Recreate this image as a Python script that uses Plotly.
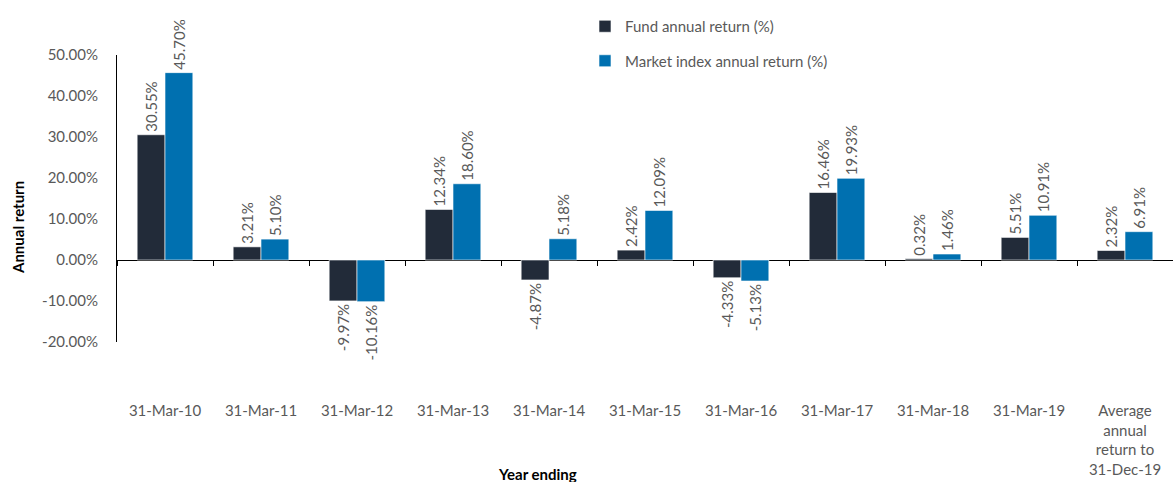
import plotly.graph_objects as go

categories = ["31-Mar-10", "31-Mar-11", "31-Mar-12", "31-Mar-13", "31-Mar-14",
              "31-Mar-15", "31-Mar-16", "31-Mar-17", "31-Mar-18", "31-Mar-19",
              "Average<br>annual<br>return to<br>31-Dec-19"]
fund = [30.55, 3.21, -9.97, 12.34, -4.87, 2.42, -4.33, 16.46, 0.32, 5.51, 2.32]
market = [45.70, 5.10, -10.16, 18.60, 5.18, 12.09, -5.13, 19.93, 1.46, 10.91, 6.91]
ytickvals = [-20, -10, 0, 10, 20, 30, 40, 50]
yticktext = ["-20.00%", "-10.00%", "0.00%", "10.00%", "20.00%", "30.00%", "40.00%", "50.00%"]

FONT = "Lato"
GRAY = "#595959"

fig = go.Figure()
fig.add_trace(go.Bar(
    x=categories, y=fund, name="Fund annual return (%)",
    marker=dict(color="#222B39", line=dict(color="#ffffff", width=0.6)),
    text=[f"{v:.2f}%" for v in fund], textposition="outside", textangle=-90,
    constraintext="none",
    textfont=dict(family=FONT, size=15, color=GRAY), cliponaxis=False,
    legendgroup="a"))
fig.add_trace(go.Bar(
    x=categories, y=market, name="Market index annual return (%)",
    marker=dict(color="#0070B0", line=dict(color="#ffffff", width=0.6)),
    text=[f"{v:.2f}%" for v in market], textposition="outside", textangle=-90,
    constraintext="none",
    textfont=dict(family=FONT, size=15, color=GRAY), cliponaxis=False,
    legendgroup="b"))
# helper trace for the tick axis at zero
fig.add_trace(go.Scatter(x=categories, y=[None] * len(categories), xaxis="x2",
                         showlegend=False, hoverinfo="skip", mode="lines"))

fig.update_layout(
    width=1173, height=482,
    margin=dict(l=117, r=0, t=55, b=140, autoexpand=False),
    paper_bgcolor="white", plot_bgcolor="white",
    barmode="group", bargap=0.42, bargroupgap=0,
    font=dict(family=FONT, size=15, color=GRAY),
    xaxis=dict(type="category", categoryarray=categories, range=[-0.5, 10.5],
               showline=False, showgrid=False, zeroline=False, ticks="",
               ticklabelstandoff=58, tickfont=dict(family=FONT, size=15, color=GRAY),
               tickangle=0, automargin=False),
    xaxis2=dict(type="category", categoryarray=categories, range=[-0.5, 10.5],
                overlaying="x", anchor="free", position=20 / 70,
                showticklabels=False, showgrid=False, zeroline=False, showline=False,
                ticks="outside", tickson="boundaries", ticklen=5, tickcolor="black",
                tickwidth=1, automargin=False),
    yaxis=dict(range=[-20, 50], tickvals=ytickvals, ticktext=yticktext,
               showline=True, linecolor="black", linewidth=1,
               showgrid=False, zeroline=True, zerolinecolor="black", zerolinewidth=1,
               ticks="", ticklabelstandoff=15, automargin=False,
               tickfont=dict(family=FONT, size=15, color=GRAY)),
    legend=dict(x=(585 - 117) / 1056, y=1 + 45 / 287, xanchor="left", yanchor="top",
                font=dict(family=FONT, size=15, color=GRAY), tracegroupgap=12,
                bgcolor="rgba(0,0,0,0)", itemwidth=30),
    annotations=[
        dict(text="<b>Year ending</b>", x=(537 - 117) / 1056, y=-(474 - 342) / 287,
             xref="paper", yref="paper", showarrow=False, xanchor="center", yanchor="middle",
             font=dict(family=FONT, size=15, color="black")),
        dict(text="<b>Annual return</b>", x=-(117 - 18) / 1056, y=(342 - 228) / 287,
             xref="paper", yref="paper", showarrow=False, xanchor="center", yanchor="middle",
             textangle=-90, font=dict(family=FONT, size=15, color="black")),
    ],
    showlegend=True,
)

fig.write_html("out.html", config={"displayModeBar": False},
               post_script="document.body.style.margin='0';document.body.style.overflow='hidden';")
